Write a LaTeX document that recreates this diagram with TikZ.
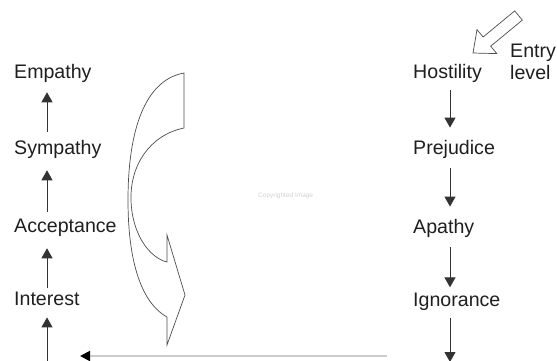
\documentclass[tikz,border=0pt]{standalone}
\usepackage{fontspec}
\setmainfont{Liberation Sans}
\usetikzlibrary{arrows.meta}
\begin{document}
\begin{tikzpicture}[x=1pt,y=-1pt,
  lbl/.style={anchor=base west,inner sep=0pt,text=black!88,font=\fontsize{19.6}{22}\selectfont},
  conn/.style={draw=black!80,line width=1pt,-{Triangle[length=10pt,width=11pt]}},
  outline/.style={draw=black!70,line width=0.7pt,line join=miter}]
\useasboundingbox (0,0) rectangle (557,360);
% left column
\node[lbl] (empathy) at (14,78) {Empathy};
\node[lbl] (sympathy) at (14,154) {Sympathy};
\node[lbl] (acceptance) at (14,232) {Acceptance};
\node[lbl] (interest) at (14,305) {Interest};
\coordinate (ax) at (47,0);
\coordinate (lbot) at (47,362);
% right column
\node[lbl] (hostility) at (413,78) {Hostility};
\node[lbl] (prejudice) at (413,154) {Prejudice};
\node[lbl] (apathy) at (413,233) {Apathy};
\node[lbl] (ignorance) at (413,306) {Ignorance};
\coordinate (bx) at (450,0);
\coordinate (rbot) at (450,362);
% entry level
\node[lbl] (entry) at (510,57) {Entry};
\node[lbl] (level) at (510,79) {level};
% watermark
\node[anchor=west,inner sep=0pt,text=black!18,font=\fontsize{6.5}{7}\selectfont] (wm) at (258,196) {Copyrighted Image};
% left arrows (upwards)
\draw[conn,shorten <=8pt,shorten >=10pt] (sympathy.north -| ax) -- (empathy.south -| ax);
\draw[conn,shorten <=6pt,shorten >=12pt] (acceptance.north -| ax) -- (sympathy.south -| ax);
\draw[conn,shorten <=3pt,shorten >=12pt] (interest.north -| ax) -- (acceptance.south -| ax);
\draw[conn,shorten >=12pt] (lbot) -- (interest.south -| ax);
% right arrows (downwards)
\draw[conn,shorten <=8pt,shorten >=12pt] (hostility.south -| bx) -- (prejudice.north -| bx);
\draw[conn,shorten <=10pt,shorten >=12pt] (prejudice.south -| bx) -- (apathy.north -| bx);
\draw[conn,shorten <=10pt,shorten >=5pt] (apathy.south -| bx) -- (ignorance.north -| bx);
\draw[conn,shorten <=8pt] (ignorance.south -| bx) -- (rbot);
% bottom return line
\coordinate (hr) at (387,356);
\coordinate (hl) at (80,356);
\draw[draw=black!20,line width=2pt,-{Triangle[length=10pt,width=10pt,color=black,fill=black]}] (hr) -- (hl);
% entry hollow arrow
\draw[outline,fill=white] (473,53) -- (496.8,53.6) -- (490.7,46.2) -- (522.3,20.1)
  -- (514.7,10.9) -- (483.1,37.0) -- (477.0,29.6) -- cycle;
% curved hollow arrow
\draw[outline] (184,73) -- (184,128)
  .. controls (150,135) and (130,165) .. (131,200)
  .. controls (132,235) and (150,258) .. (167,262)
  -- (167,235) -- (185,295) -- (167,345) -- (167,317)
  .. controls (145,305) and (128,270) .. (128,200)
  .. controls (128,130) and (145,80) .. (184,73) -- cycle;
\end{tikzpicture}
\end{document}
